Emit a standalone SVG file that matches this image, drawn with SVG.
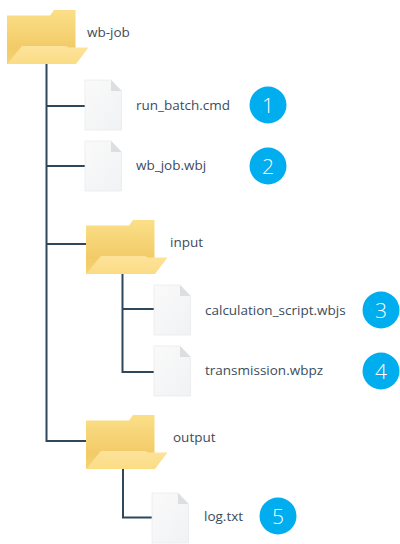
<svg xmlns="http://www.w3.org/2000/svg" width="400" height="544" viewBox="0 0 400 544">
<style>
.t{font-family:"Open Sans","Noto Sans",sans-serif;font-size:13.500px;fill:#3c4c5c}
.n{font-family:"Open Sans","Noto Sans",sans-serif;font-size:21px;font-weight:300;fill:#fff;text-anchor:middle}
.b{fill:#00adef}
.c{fill:none;stroke:#2e475d;stroke-width:2}
</style>
<defs>
<linearGradient id="fb" x1="0" y1="0" x2="0" y2="1"><stop offset="0" stop-color="#fbdf88"/><stop offset="0.700" stop-color="#f2cb68"/><stop offset="1" stop-color="#f5d272"/></linearGradient>
<linearGradient id="ff" x1="0" y1="0" x2="0" y2="1"><stop offset="0" stop-color="#fde39a"/><stop offset="1" stop-color="#fbdc85"/></linearGradient>
<linearGradient id="pg" x1="0" y1="0" x2="1" y2="1"><stop offset="0" stop-color="#fafafa"/><stop offset="1" stop-color="#f1f2f4"/></linearGradient>
<g id="folder">
<path d="M7 15.500H50L54 10H75.500V50H30V64H7Z" fill="url(#fb)"/>
<path d="M7 64L22 46H66L69 47.500H88.500L76 64Z" fill="url(#ff)"/>
</g>
<g id="file">
<path d="M0 0H26L36.500 11V50H0Z" fill="url(#pg)" stroke="#e6e8ea" stroke-width="0.700"/>
<path d="M26 0L36.500 11H26Z" fill="#dcdee0"/>
</g>
</defs>
<g id="connectors">
<path class="c" d="M46.500 64V441H86M46.500 106H85M46.500 166H85M46.500 244H86"/>
<path class="c" d="M122.500 273V372H154M122.500 309H154"/>
<path class="c" d="M123 469V517.500H152"/>
</g>
<g id="wb-job"><use href="#folder"/><text class="t" x="87" y="37">wb-job</text></g>
<g id="run_batch"><use href="#file" x="85" y="80"/><text class="t" x="136" y="110">run_batch.cmd</text></g>
<g id="badge1"><circle class="b" cx="268" cy="105" r="18.500"/><text class="n" x="268" y="112.500">1</text></g>
<g id="wb_job"><use href="#file" x="85" y="141"/><text class="t" x="136" y="170">wb_job.wbj</text></g>
<g id="badge2"><circle class="b" cx="268" cy="166" r="18.500"/><text class="n" x="268" y="173.500">2</text></g>
<g id="input"><use href="#folder" x="79" y="210"/><text class="t" x="170" y="247">input</text></g>
<g id="calculation_script"><use href="#file" x="154" y="285"/><text class="t" x="205" y="315">calculation_script.wbjs</text></g>
<g id="badge3"><circle class="b" cx="381" cy="310" r="18.500"/><text class="n" x="381" y="317.500">3</text></g>
<g id="transmission"><use href="#file" x="154" y="346"/><text class="t" x="205" y="375">transmission.wbpz</text></g>
<g id="badge4"><circle class="b" cx="381" cy="371" r="18.500"/><text class="n" x="381" y="378.500">4</text></g>
<g id="output"><use href="#folder" x="79" y="405"/><text class="t" x="173" y="442">output</text></g>
<g id="log"><use href="#file" x="152" y="493"/><text class="t" x="204" y="521">log.txt</text></g>
<g id="badge5"><circle class="b" cx="278" cy="516" r="18.500"/><text class="n" x="278" y="523.500">5</text></g>
</svg>
